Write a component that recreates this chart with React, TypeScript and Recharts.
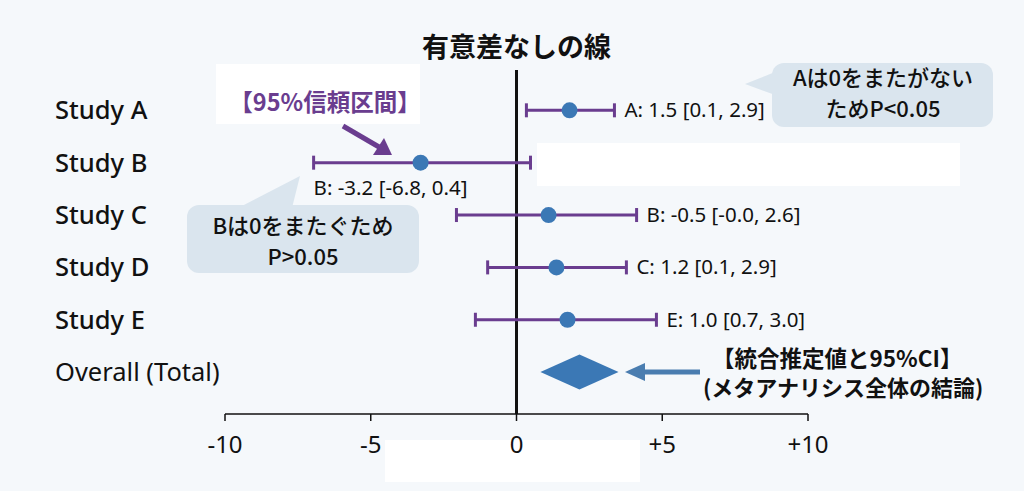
import React from "react";
import {
  ErrorBar,
  ReferenceLine,
  Scatter,
  ScatterChart,
  XAxis,
  YAxis,
} from "recharts";

// rows, top to bottom
const studies = ["Study A", "Study B", "Study C", "Study D", "Study E"];
const means = [1.82, -3.29, 1.1, 1.37, 1.75];
const lower = [0.34, -6.96, -2.06, -0.99, -1.41];
const upper = [3.36, 0.48, 4.12, 3.77, 4.8];
const valueLabels = [
  "A: 1.5 [0.1, 2.9]",
  "B: -3.2 [-6.8, 0.4]",
  "B: -0.5 [-0.0, 2.6]",
  "C: 1.2 [0.1, 2.9]",
  "E: 1.0 [0.7, 3.0]",
];
const overallLabel = "Overall (Total)";
const overallMean = 2.16;
const overallLower = 0.82;
const overallUpper = 3.5;
const xTicks = [-10, -5, 0, 5, 10];

const rowLabels = [...studies, overallLabel];
const overallRow = studies.length;
const belowLabelRow = 1; // Study B's label sits under its bar

const studyData = studies.map((name, i) => ({
  name,
  x: means[i],
  y: i,
  err: [means[i] - lower[i], upper[i] - means[i]],
}));

const labelData = studies.map((_, i) => ({
  x: i === belowLabelRow ? lower[i] : upper[i],
  y: i,
  text: valueLabels[i],
  below: i === belowLabelRow,
}));

const diamondHalf = 0.334;
const diamondData = [
  { x: overallLower, y: overallRow },
  { x: overallMean, y: overallRow - diamondHalf },
  { x: overallUpper, y: overallRow },
  { x: overallMean, y: overallRow + diamondHalf },
];

const PURPLE = "#6a3d8f";
const BLUE = "#3b78b5";
const BUBBLE = "#dae5ee";
const JP = "'Noto Sans CJK JP', 'Noto Sans', sans-serif";
const SANS = "'Noto Sans', 'Noto Sans CJK JP', sans-serif";

const RowTick = (props: any) => {
  const { y, payload } = props;
  const isOverall = payload.value === overallRow;
  return (
    <text
      x={55}
      y={y}
      dy={9}
      textAnchor="start"
      fontFamily={SANS}
      fontSize={25.5}
      fontWeight={isOverall ? 400 : 500}
      fill="#111"
    >
      {rowLabels[payload.value]}
    </text>
  );
};

const Dot = (props: any) => (
  <circle cx={props.cx} cy={props.cy} r={8} fill={BLUE} />
);

const ValueLabel = (props: any) => {
  const { cx, cy, payload } = props;
  return (
    <text
      x={payload.below ? cx : cx + 10}
      y={payload.below ? cy + 32 : cy + 7}
      fontFamily={SANS}
      fontSize={20.5}
      fill="#111"
    >
      {payload.text}
    </text>
  );
};

const Diamond = (props: any) => {
  const pts = (props.points || [])
    .map((p: any) => `${p.x},${p.y}`)
    .join(" ");
  return <polygon points={pts} fill={BLUE} stroke="none" />;
};

const Annotations = () => (
  <svg
    width={1024}
    height={491}
    style={{ position: "absolute", left: 0, top: 0, pointerEvents: "none" }}
  >
    {/* purple CI note */}
    <text
      x={325}
      y={111}
      textAnchor="middle"
      fontFamily={JP}
      fontSize={23.5}
      fontWeight={700}
      fill={PURPLE}
    >
      【95%信頼区間】
    </text>
    <line x1={343} y1={126} x2={379} y2={147} stroke={PURPLE} strokeWidth={5} />
    <polygon points="392,155 373,155 384,138" fill={PURPLE} />

    {/* bubble A */}
    <polygon points="745,84 790,66 800,104" fill={BUBBLE} />
    <rect x={772} y={63} width={221} height={64} rx={12} fill={BUBBLE} />
    <text x={883} y={86} textAnchor="middle" fontFamily={JP} fontSize={22} fontWeight={500} fill="#111">
      Aは0をまたがない
    </text>
    <text x={883} y={117} textAnchor="middle" fontFamily={JP} fontSize={22} fontWeight={500} fill="#111">
      ためP&lt;0.05
    </text>

    {/* bubble B */}
    <polygon points="300,176 238,208 292,208" fill={BUBBLE} />
    <rect x={187} y={205} width={232} height={68} rx={12} fill={BUBBLE} />
    <text x={303} y={234} textAnchor="middle" fontFamily={JP} fontSize={22} fontWeight={500} fill="#111">
      Bは0をまたぐため
    </text>
    <text x={303} y={265} textAnchor="middle" fontFamily={JP} fontSize={22} fontWeight={500} fill="#111">
      P&gt;0.05
    </text>

    {/* overall note */}
    <line x1={640} y1={372} x2={700} y2={372} stroke="#4a7db0" strokeWidth={5} />
    <polygon points="625,372 645,363 645,381" fill="#4a7db0" />
    <text x={712} y={367} fontFamily={JP} fontSize={22.5} fontWeight={700} fill="#111">
      【統合推定値と95%CI】
    </text>
    <text x={703} y={396} fontFamily={JP} fontSize={22} fontWeight={700} fill="#111">
      (メタアナリシス全体の結論)
    </text>
  </svg>
);

const App = () => {
  return (
    <div
      style={{
        position: "fixed",
        left: 0,
        top: 0,
        width: 1024,
        height: 491,
        background: "#f5f8fb",
        overflow: "hidden",
      }}
    >
      {/* pale patches in the original */}
      <div style={{ position: "absolute", left: 216, top: 64, width: 204, height: 60, background: "#fff" }} />
      <div style={{ position: "absolute", left: 537, top: 143, width: 423, height: 43, background: "#fff" }} />
      <div style={{ position: "absolute", left: 385, top: 440, width: 255, height: 42, background: "#fff" }} />

      <div style={{ position: "absolute", left: 0, top: 0 }}>
        <ScatterChart
          width={1024}
          height={491}
          margin={{ top: 70, right: 216, bottom: 37, left: 0 }}
        >
          <XAxis
            type="number"
            dataKey="x"
            domain={[-10, 10]}
            ticks={xTicks}
            allowDataOverflow
            tickFormatter={(v: number) => (v > 0 ? `+${v}` : `${v}`)}
            tick={{ fill: "#111", fontSize: 24, fontFamily: SANS }}
            axisLine={{ stroke: "#111", strokeWidth: 1.5 }}
            tickLine={{ stroke: "#111", strokeWidth: 1.5 }}
            tickSize={7}
            tickMargin={15}
            height={40}
          />
          <YAxis
            type="number"
            dataKey="y"
            domain={[-0.77, 5.8]}
            ticks={[0, 1, 2, 3, 4, 5]}
            reversed
            allowDataOverflow
            axisLine={false}
            tickLine={false}
            tick={<RowTick />}
            width={225}
          />
          <ReferenceLine
            x={0}
            stroke="#111"
            strokeWidth={3}
            label={{
              value: "有意差なしの線",
              position: "top",
              offset: 13,
              fill: "#111",
              fontSize: 27,
              fontWeight: 700,
              fontFamily: JP,
            }}
          />
          <Scatter
            data={diamondData}
            isAnimationActive={false}
            shape={() => <g />}
            line={Diamond}
            fill={BLUE}
          />
          <Scatter
            data={studyData}
            isAnimationActive={false}
            shape={Dot}
            fill={BLUE}
          >
            <ErrorBar
              dataKey="err"
              direction="x"
              width={7}
              stroke={PURPLE}
              strokeWidth={3}
              isAnimationActive={false}
            />
          </Scatter>
          <Scatter
            data={labelData}
            isAnimationActive={false}
            shape={ValueLabel}
          />
        </ScatterChart>
      </div>
      <Annotations />
    </div>
  );
};

export default App;
